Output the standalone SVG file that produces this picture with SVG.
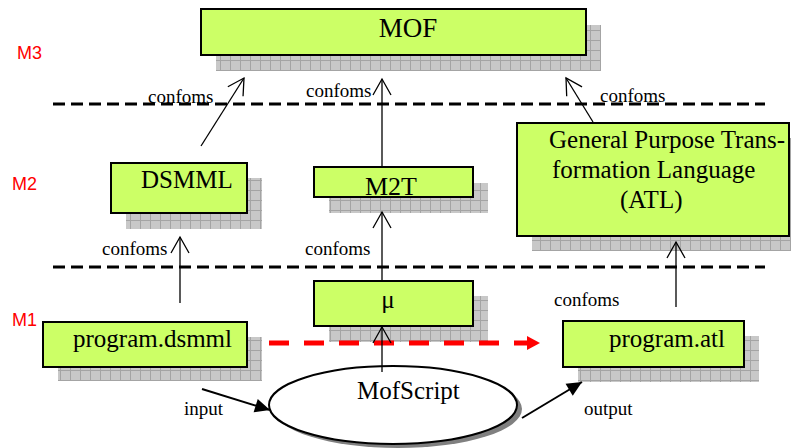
<svg xmlns="http://www.w3.org/2000/svg" width="791" height="448" viewBox="0 0 791 448">
<defs>
<pattern id="grid" patternUnits="userSpaceOnUse" width="10" height="10">
<rect width="10" height="10" fill="#c8c8c8"/>
<path d="M0,0.5 H10 M0.5,0 V10" stroke="#a4a4a4" stroke-width="1"/>
</pattern>
<marker id="open" markerUnits="userSpaceOnUse" markerWidth="20" markerHeight="20" viewBox="-18 -10 20 20" refX="0" refY="0" orient="auto" overflow="visible">
<path d="M-16,-9 L0,0 L-16,9" fill="none" stroke="#000" stroke-width="1.3"/>
</marker>
<marker id="redhead" markerUnits="userSpaceOnUse" markerWidth="16" markerHeight="16" viewBox="-14 -8 16 16" refX="0" refY="0" orient="auto" overflow="visible">
<path d="M-13,-7 L0,0 L-13,7 Z" fill="#ff0000"/>
</marker>
<marker id="solid" markerUnits="userSpaceOnUse" markerWidth="18" markerHeight="18" viewBox="-16 -8 18 16" refX="0" refY="0" orient="auto" overflow="visible">
<path d="M-15,-7 L0,0 L-15,7 Z" fill="#000"/>
</marker>
</defs>
<style>
.shadow{fill:url(#grid);}
.box{fill:#ccff66;stroke:#000;stroke-width:2;}
.t{font-family:"Liberation Serif","Times New Roman",serif;fill:#000;}
.lbl{font-family:"Liberation Serif","Times New Roman",serif;font-size:19px;fill:#000;}
.lvl{font-family:"Liberation Sans",Arial,sans-serif;font-size:18px;fill:#ff0000;}
.sep{stroke:#000;stroke-width:3;stroke-dasharray:12 6;fill:none;}
.conf{stroke:#000;stroke-width:1.3;fill:none;marker-end:url(#open);}
.io{stroke:#000;stroke-width:2;fill:none;marker-end:url(#solid);}
</style>
<rect width="791" height="448" fill="#fff"/>

<g id="levels">
<text class="lvl" x="17" y="59">M3</text>
<text class="lvl" x="12" y="190">M2</text>
<text class="lvl" x="12" y="326">M1</text>
<line class="sep" x1="53" y1="104" x2="765" y2="104"/>
<line class="sep" x1="53" y1="267" x2="765" y2="267"/>
</g>

<g id="MOF">
<rect class="shadow" x="216" y="25" width="385" height="46"/>
<rect class="box" x="201" y="9" width="385" height="46"/>
<text class="t" x="408" y="37" font-size="27" text-anchor="middle">MOF</text>
</g>

<g id="DSMML">
<rect class="shadow" x="126" y="178" width="136" height="51"/>
<rect class="box" x="111" y="163" width="136" height="50"/>
<text class="t" x="141" y="188" font-size="25">DSMML</text>
</g>

<g id="M2T">
<rect class="shadow" x="329" y="183" width="159" height="30"/>
<rect class="box" x="314" y="167" width="159" height="30"/>
<text class="t" x="391" y="195" font-size="26" text-anchor="middle">M2T</text>
</g>

<g id="ATL">
<rect class="shadow" x="532" y="138" width="259" height="113"/>
<rect class="box" x="517" y="123" width="272" height="113"/>
<text class="t" font-size="25"><tspan x="549" y="148">General Purpose Trans-</tspan><tspan x="552" y="178">formation Language</tspan><tspan x="620" y="208">(ATL)</tspan></text>
</g>

<g id="mu">
<rect class="shadow" x="329" y="296" width="159" height="46"/>
<rect class="box" x="314" y="281" width="159" height="45"/>
<text class="t" x="388" y="308" font-size="25" text-anchor="middle">μ</text>
</g>

<g id="program_dsmml">
<rect class="shadow" x="58" y="337" width="204" height="44"/>
<rect class="box" x="43" y="322" width="204" height="45"/>
<text class="t" x="73" y="347" font-size="25">program.dsmml</text>
</g>

<g id="program_atl">
<rect class="shadow" x="578" y="336" width="181" height="46"/>
<rect class="box" x="563" y="321" width="181" height="46"/>
<text class="t" x="609" y="347" font-size="25">program.atl</text>
</g>

<g id="MofScript">
<ellipse cx="398" cy="409" rx="124" ry="39" fill="#808080"/>
<ellipse cx="393" cy="405" rx="124" ry="39" fill="#fff" stroke="#000" stroke-width="2"/>
<text class="t" x="357" y="399" font-size="25">MofScript</text>
</g>

<g id="connectors">
<path d="M269,343 H540" stroke="#ff0000" stroke-width="5" stroke-dasharray="20 15" fill="none" marker-end="url(#redhead)"/>
<line class="conf" x1="201" y1="146" x2="244" y2="78"/>
<line class="conf" x1="382" y1="166" x2="382" y2="79"/>
<line class="conf" x1="593" y1="122" x2="566" y2="78"/>
<line class="conf" x1="180" y1="303" x2="180" y2="237"/>
<line class="conf" x1="382" y1="280" x2="382" y2="212"/>
<line class="conf" x1="676" y1="307" x2="676" y2="242"/>
<line class="conf" x1="382" y1="372" x2="382" y2="327"/>
<line class="io" x1="202" y1="389" x2="270" y2="410"/>
<line class="io" x1="522" y1="418" x2="582" y2="382"/>
<text class="lbl" x="148" y="103">confoms</text>
<text class="lbl" x="306" y="97">confoms</text>
<text class="lbl" x="600" y="102">confoms</text>
<text class="lbl" x="102" y="255">confoms</text>
<text class="lbl" x="305" y="255">confoms</text>
<text class="lbl" x="554" y="306">confoms</text>
<text class="lbl" x="184" y="415">input</text>
<text class="lbl" x="584" y="415">output</text>
</g>
</svg>
